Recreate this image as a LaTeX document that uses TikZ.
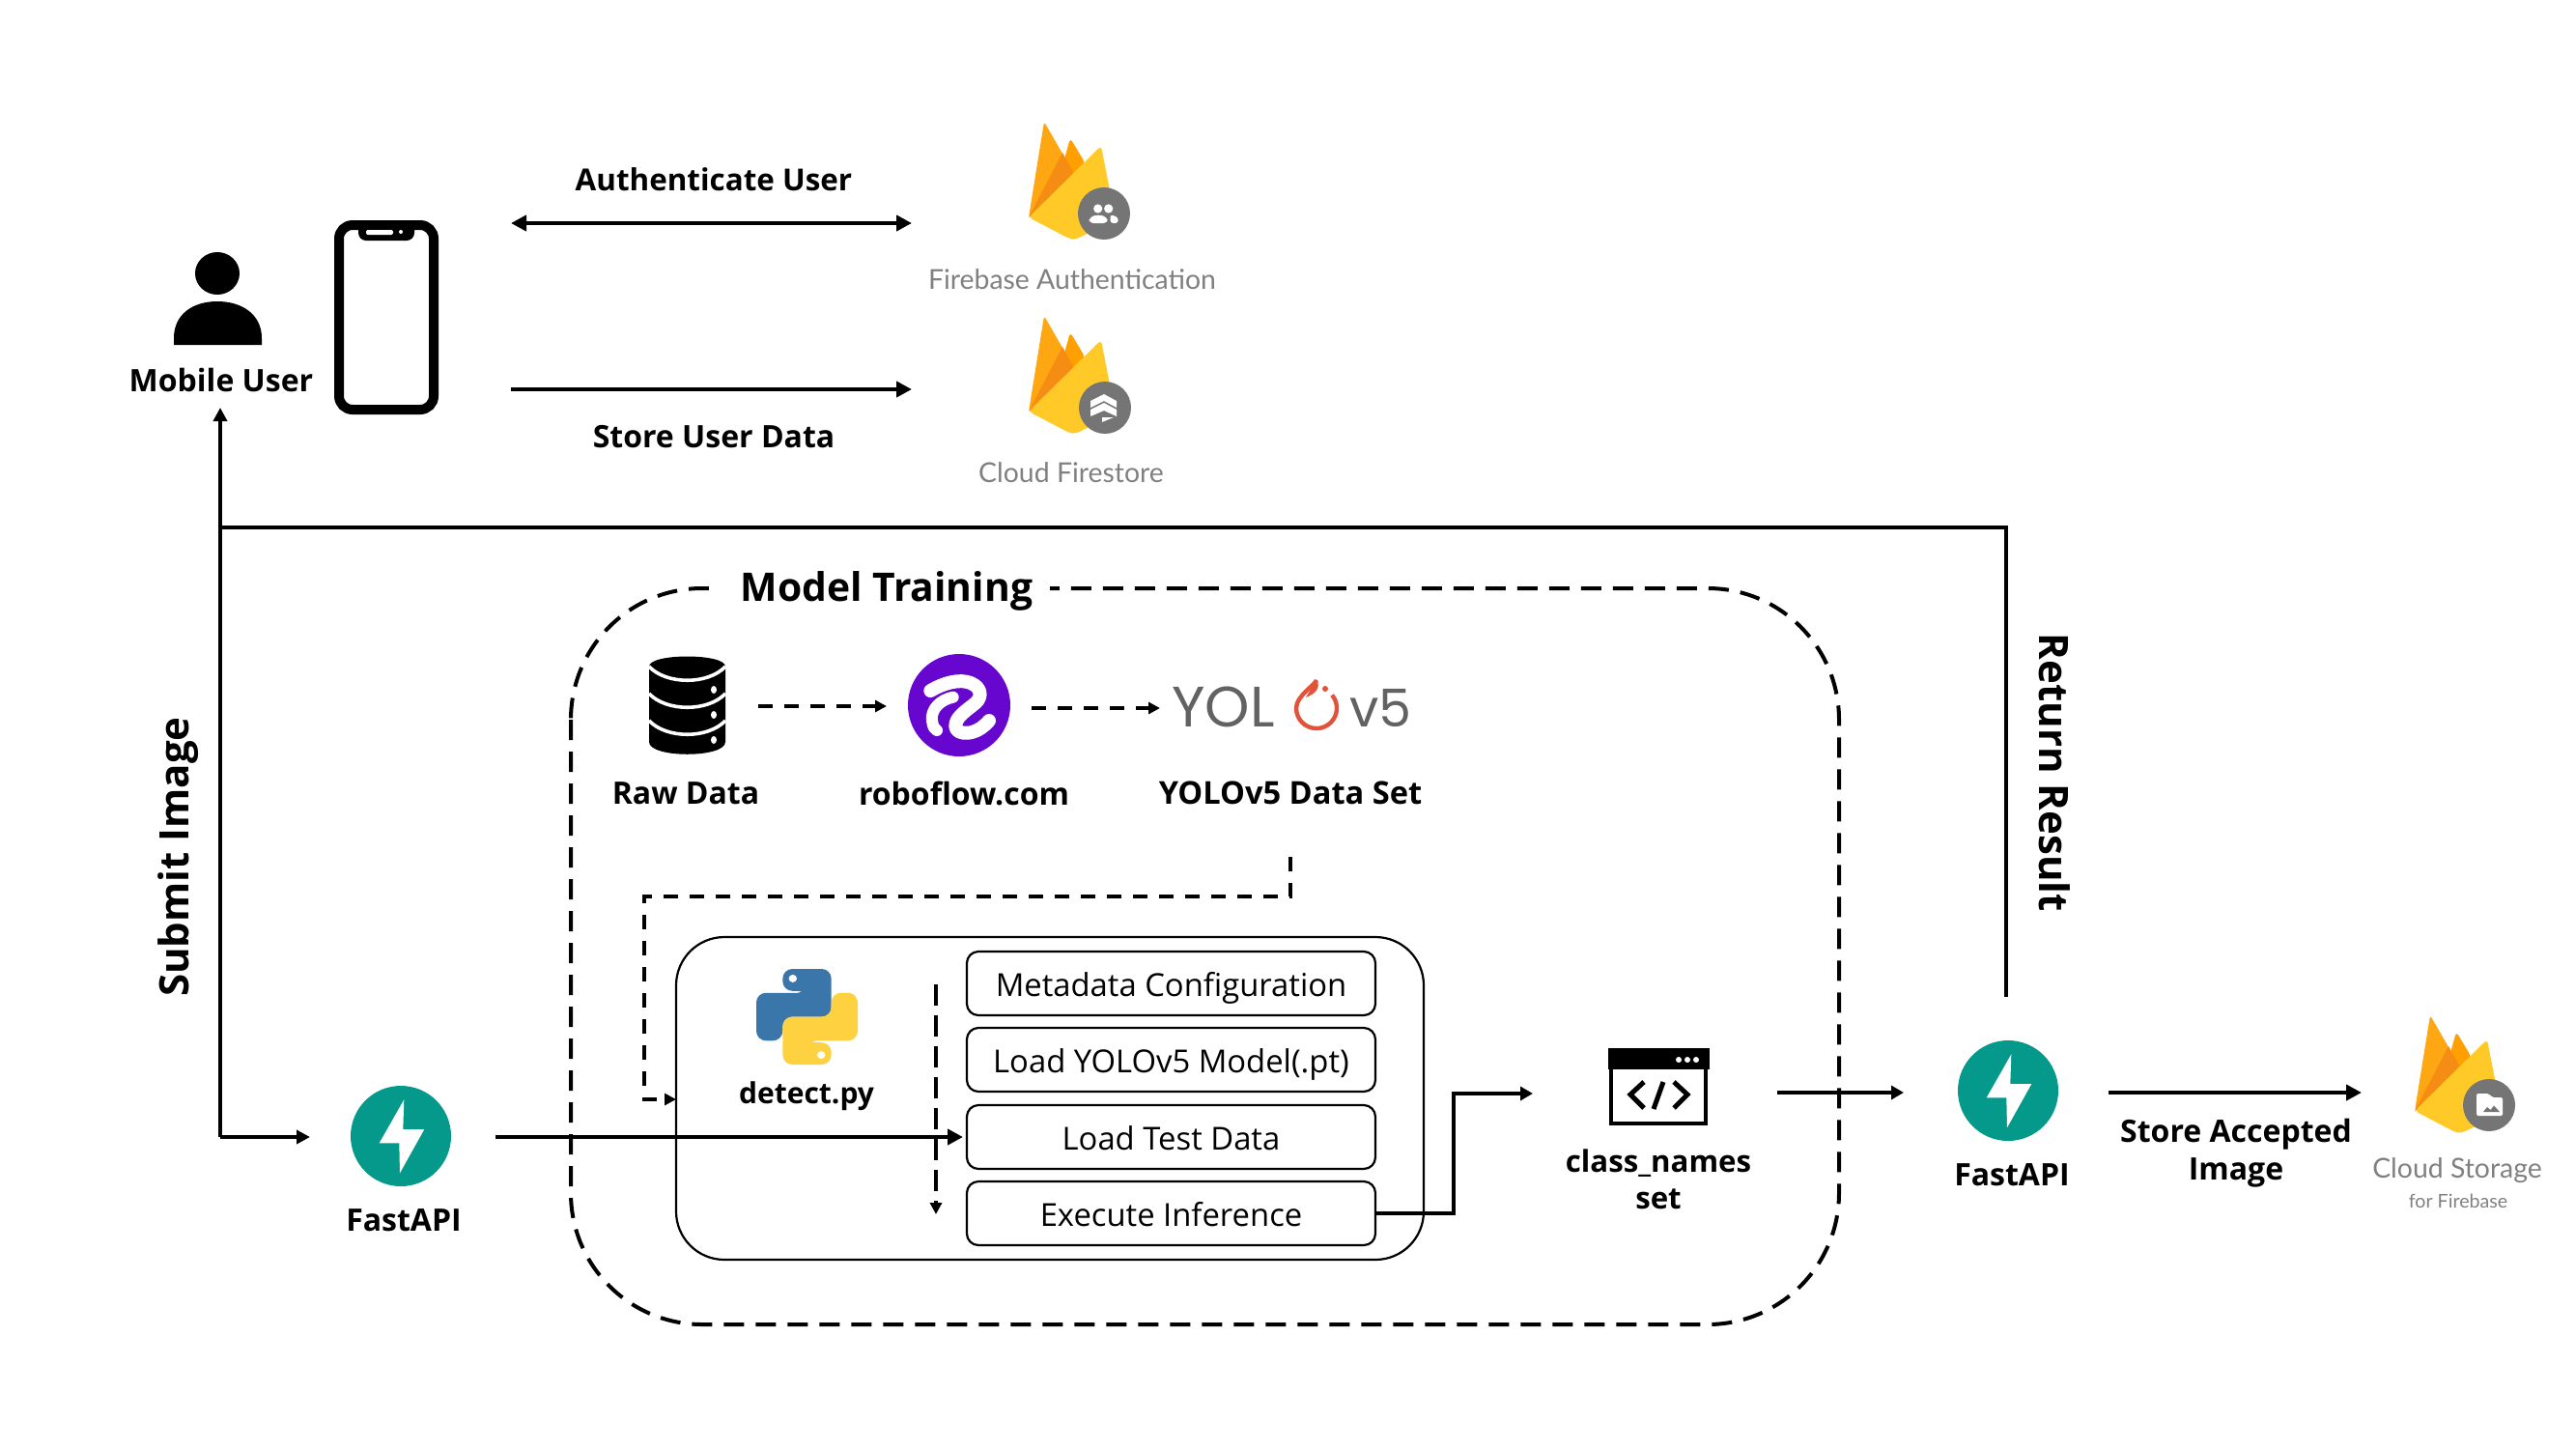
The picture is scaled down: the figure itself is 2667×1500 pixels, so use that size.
\documentclass[tikz,border=0pt]{standalone}
\usepackage{fontspec}
\setmainfont{Open Sans}
\newfontfamily\grayfont{Lato}
\newfontfamily\yolofont{Poppins}
\usetikzlibrary{arrows.meta}
\definecolor{fbgray}{HTML}{757575}
\definecolor{fbtext}{HTML}{808080}
\definecolor{teal}{HTML}{05998B}
\definecolor{robo}{HTML}{6706CE}
\definecolor{pyblue}{HTML}{3A76AA}
\definecolor{pyyellow}{HTML}{FDD13F}
\definecolor{yologray}{HTML}{626262}
\definecolor{yolored}{HTML}{E2533B}
\definecolor{flameA}{HTML}{FFA000}
\definecolor{flameB}{HTML}{FFA712}
\definecolor{flameC}{HTML}{F58C14}
\definecolor{flameD}{HTML}{FFCA28}
\tikzset{
  label/.style={font=\bfseries\fontsize{16}{18}\selectfont,inner sep=0pt,align=center},
  titlelabel/.style={font=\bfseries\fontsize{20.4}{22}\selectfont,inner sep=0pt},
  stepbox/.style={draw,line width=1.1pt,rounded corners=6pt,fill=white,minimum width=211.5pt,minimum height=33pt,inner sep=0pt,text height=14pt,text depth=0.5pt,font=\fontsize{16.4}{18}\selectfont},
  fblabel/.style={font=\grayfont\fontsize{14.2}{18}\selectfont,text=fbtext,inner sep=0pt},
  icon/.style={inner sep=0pt,minimum size=8pt},
  solidarrow/.style={line width=2.2pt,-{Triangle[length=8pt,width=8pt]}},
  thinarrow/.style={line width=1.9pt,-{Triangle[length=7pt,width=7pt]}},
  dasharrow/.style={line width=1.8pt,dash pattern=on 7.5pt off 6pt,-{Triangle[length=6pt,width=6pt,sep=0pt]}},
}
\newcommand{\flameicon}[2]{%
  \begin{scope}[shift={(#1,#2)}]
    \fill[flameA,rounded corners=2pt] (30,62) -- (43,15) -- (58,40) -- (58,70) -- cycle;
    \fill[flameB,rounded corners=1.5pt] (0,97) -- (16,-2) -- (46,50) -- (30,80) -- cycle;
    \fill[flameC] (0,97) -- (35,30) -- (46,50) -- (30,80) -- cycle;
    \fill[flameD,rounded corners=2pt] (0,97) -- (75,23) -- (90,100) -- (48,120) -- (42,119) -- cycle;
  \end{scope}}
\newcommand{\fastapiicon}[3]{%
  \node[circle,fill=teal,minimum size=52pt,inner sep=0pt] (#3) at (#1,#2) {};
  \fill[white,shift={(#1,#2)}] (3.3,-37.7) -- (-22.3,7.3) -- (-1.7,7.3) -- (-1,38.3) -- (24.3,-7) -- (2.3,-7) -- cycle;}
\begin{document}
\begin{tikzpicture}[x=0.5pt,y=-0.5pt]
\useasboundingbox (0,0) rectangle (2667,1500);
% mobile user
\node[icon] (user) at (225,320) {};
\fill (225,283) ellipse [x radius=23,y radius=22];
\fill (180,357) -- (180,350) .. controls (180,325) and (200,312) .. (225,312) .. controls (250,312) and (271,325) .. (271,350) -- (271,357) -- cycle;
\node[label] (mobile) at (229,393.5) {Mobile User};
% phone
\node[icon] (phone) at (400,328) {};
\draw[line width=5pt,rounded corners=7pt] (351,233) rectangle (449,424);
\fill[rounded corners=4pt] (371,230) -- (371,249) -- (429,249) -- (429,230) -- cycle;
\fill[white,rounded corners=1pt] (379,238) rectangle (407,243);
\fill[white] (415,240) circle [radius=2];
% firebase
\flameicon{1065}{128}
\node[circle,fill=fbgray,minimum size=27pt,inner sep=0pt] (fbauth) at (1143,221) {};
\begin{scope}[shift={(1065,128)},white]
  \fill (71.7,88) circle [radius=4.6];
  \fill (82.7,88) circle [radius=4.6];
  \fill[rounded corners=2pt] (62.7,103) -- (62.7,97) -- (72,94) -- (81.7,97) -- (81.7,103) -- cycle;
  \fill[rounded corners=1.5pt] (84.5,94) -- (92.7,97) -- (92.7,103) -- (84.5,103) -- cycle;
\end{scope}
\node[fblabel] (fbauthtxt) at (1110,289) {Firebase Authentication};
\flameicon{1065}{329}
\node[circle,fill=fbgray,minimum size=27pt,inner sep=0pt] (firestore) at (1144,422) {};
\begin{scope}[shift={(1065,329)},white]
  \fill (64,86) -- (78,79) -- (91,86) -- (91,93) -- (78,86) -- (64,93) -- cycle;
  \fill (64,95) -- (78,88) -- (91,95) -- (91,102) -- (78,96) -- (64,102) -- cycle;
  \fill (76,103) -- (88,103) -- (76,108) -- cycle;
\end{scope}
\node[fblabel] (firestoretxt) at (1109,489) {Cloud Firestore};
% top arrows
\coordinate (authL) at (529,231); \coordinate (authR) at (944,231);
\coordinate (storeL) at (529,403); \coordinate (storeR) at (944,403);
\draw[line width=2.2pt,{Triangle[length=8pt,width=8pt]}-{Triangle[length=8pt,width=8pt]}] (authL) -- (authR);
\draw[solidarrow] (storeL) -- (storeR);
\node[label,font=\bfseries\fontsize{15.7}{18}\selectfont] (authtxt) at (739,186) {Authenticate User};
\node[label] (storetxt) at (739,452) {Store User Data};
% model training frame
\draw[line width=2pt,dash pattern=on 10.5pt off 6pt,rounded corners=68pt] (591,609) rectangle (1904,1371);
\node[fill=white,minimum height=30pt,minimum width=172pt,inner sep=0pt] (trainbg) at (915,609) {};
\node[titlelabel] (train) at (918,612) {Model Training};
% raw data
\node[icon] (db) at (711,730) {};
\fill (672,690) .. controls (672,676) and (751,676) .. (751,690) -- (751,768) .. controls (751,785) and (672,785) .. (672,768) -- cycle;
\foreach \y in {690,718,746}
  \draw[white,line width=1.8pt] (672,\y) .. controls (690,\y+19) and (733,\y+19) .. (751,\y);
\foreach \y in {714,740,766}
  \fill[white] (739,\y) ellipse [x radius=3,y radius=4];
\node[label] (rawtxt) at (710,821) {Raw Data};
% roboflow
\node[circle,fill=robo,minimum size=53pt,inner sep=0pt] (robo) at (993,730) {};
\begin{scope}[shift={(930,671)},x=0.1667pt,y=-0.1667pt,white,line cap=round,line join=round]
  \draw[line width=7pt] (100,132) .. controls (140,108) and (190,94) .. (225,108) .. controls (258,122) and (262,150) .. (240,170) .. controls (210,195) and (175,215) .. (178,245) .. controls (182,270) and (240,275) .. (282,225);
  \draw[line width=6pt] (170,152) .. controls (130,160) and (100,190) .. (105,225) .. controls (108,245) and (112,252) .. (120,255);
\end{scope}
\node[label] (robotxt) at (998,821) {roboflow.com};
% yolo
\node[inner sep=0pt,anchor=base west,text=yologray,font=\yolofont\fontsize{29.5}{30}\selectfont] (yol) at (1213,752) {YOL};
\node[inner sep=0pt,anchor=base west,text=yologray,font=\yolofont\fontsize{27}{30}\selectfont] (vfive) at (1397,752) {v5};
\node[icon] (yoloo) at (1363,733) {};
\draw[yolored,line width=2.2pt] (1363,704) .. controls (1363,708) and (1342,720) .. (1342,733) arc [start angle=180,end angle=-40,radius=21];
\fill[yolored] (1363,703) .. controls (1368,712) and (1362,718) .. (1352,722) -- cycle;
\fill[yolored] (1372,713) circle [radius=3];
\node[label,font=\bfseries\fontsize{16.3}{18}\selectfont] (yolotxt) at (1336,821) {YOLOv5 Data Set};
% detect box
\draw[line width=1.1pt,rounded corners=25pt] (700,970) rectangle (1474,1304);
\node[stepbox] (b1) at (1212.5,1018) {Metadata Configuration};
\node[stepbox] (b2) at (1212.5,1097) {Load YOLOv5 Model(.pt)};
\node[stepbox] (b3) at (1212.5,1177) {Load Test Data};
\node[stepbox] (b4) at (1212.5,1256) {Execute Inference};
% python
\node[icon] (py) at (835,1052) {};
\begin{scope}[shift={(783,1003)},x=0.525pt,y=-0.495pt]
  \fill[pyblue,rounded corners=5pt] (26,0) -- (74,0) -- (74,50) -- (26,50) -- (26,75) -- (0,75) -- (0,25) -- (50,25) -- (50,23) -- (26,23) -- cycle;
  \fill[white] (36,10) circle [radius=4];
  \fill[pyyellow,rounded corners=5pt] (74,100) -- (26,100) -- (26,50) -- (74,50) -- (74,25) -- (100,25) -- (100,75) -- (50,75) -- (50,77) -- (74,77) -- cycle;
  \fill[white] (64,90) circle [radius=4];
\end{scope}
\node[label,font=\bfseries\fontsize{15}{18}\selectfont] (pytxt) at (835,1135) {detect.py};
% connectors into box
\coordinate (dashStart) at (1336,887);
\coordinate (dashA) at (1336,928);
\coordinate (dashB) at (667,928);
\coordinate (dashC) at (667,1138);
\coordinate (dashEnd) at (700,1138);
\draw[dasharrow] (dashStart) -- (dashA) -- (dashB) -- (dashC) -- (dashEnd);
\coordinate (flowTop) at (969,1019); \coordinate (flowEnd) at (969,1257);
\draw[dasharrow,dash pattern=on 11pt off 5pt] (flowTop) -- (flowEnd);
\coordinate (rawOut) at (785,731); \coordinate (roboIn) at (918,731);
\draw[dasharrow] (rawOut) -- (roboIn);
\coordinate (roboOut) at (1068,733); \coordinate (yoloIn) at (1201,733);
\draw[dasharrow] (roboOut) -- (yoloIn);
% fastapi left
\fastapiicon{415}{1176}{fastL}
\node[label] (fastLtxt) at (418,1263) {FastAPI};
\coordinate (fastLout) at (513,1177);
\coordinate (b3in) at (997,1177);
\draw[solidarrow] (fastLout) -- (b3in);
% outer submit / return
\coordinate (submitTop) at (228,422);
\coordinate (submitBot) at (228,1177);
\coordinate (submitEnd) at (321,1177);
\coordinate (retBot) at (2077,1032);
\coordinate (retTop) at (2077,546);
\coordinate (retLeft) at (228,546);
\draw[thinarrow] (submitBot) -- (submitTop);
\draw[thinarrow] (submitBot) -- (submitEnd);
\draw[line width=2.2pt] (retBot) -- (retTop) -- (retLeft);
\node[label,rotate=90,font=\bfseries\fontsize{21}{24}\selectfont] (submit) at (185,887) {Submit Image};
\node[label,rotate=-90,font=\bfseries\fontsize{21}{24}\selectfont] (return) at (2127,800) {Return Result};
% class names
\node[icon] (cls) at (1717,1126) {};
\draw[line width=2.2pt] (1668,1089) rectangle (1766,1163);
\fill (1665,1085) rectangle (1770,1107);
\foreach \x in {1738,1747,1756} \fill[white] (\x,1097) circle [radius=3];
\draw[line width=2.5pt,line join=miter] (1702,1120) -- (1688,1133) -- (1702,1147);
\draw[line width=2.5pt] (1722,1120) -- (1712,1148);
\draw[line width=2.5pt,line join=miter] (1733,1120) -- (1747,1133) -- (1733,1147);
\node[label,font=\bfseries\fontsize{15.6}{18}\selectfont] (clstxt) at (1717,1221) {class\_names\\[1pt]set};
\coordinate (midL) at (1505,1256); \coordinate (midT) at (1505,1132); \coordinate (clsIn) at (1587,1132);
\draw[line width=2.2pt,-{Triangle[length=6.5pt,width=7pt]}] (b4.east) -- (midL) -- (midT) -- (clsIn);
\coordinate (clsOut) at (1840,1131); \coordinate (fastRin) at (1971,1131);
\draw[line width=2.2pt,-{Triangle[length=6.5pt,width=7pt]}] (clsOut) -- (fastRin);
% fastapi right
\fastapiicon{2079}{1129}{fastR}
\node[label] (fastRtxt) at (2083,1216) {FastAPI};
\coordinate (fastRout) at (2183,1131); \coordinate (csIn) at (2445,1131);
\draw[solidarrow] (fastRout) -- (csIn);
\node[label] (sai) at (2315,1194) {Store Accepted\\[1.5pt]Image};
% cloud storage
\flameicon{2500}{1053}
\node[circle,fill=fbgray,minimum size=27pt,inner sep=0pt] (cs) at (2577,1144) {};
\begin{scope}[shift={(2505,1052)}]
  \fill[white,rounded corners=1pt] (59,103) -- (59,80) -- (72,80) -- (75,84) -- (86,84) -- (86,103) -- cycle;
  \fill[fbgray] (66,99) -- (70,94) -- (73.5,97) -- (77,92.5) -- (83,99) -- cycle;
\end{scope}
\node[fblabel] (cstxt) at (2544,1212) {Cloud Storage};
\node[fblabel,font=\grayfont\fontsize{9.8}{12}\selectfont] (cstxt2) at (2545,1243) {for Firebase};
\end{tikzpicture}
\end{document}
